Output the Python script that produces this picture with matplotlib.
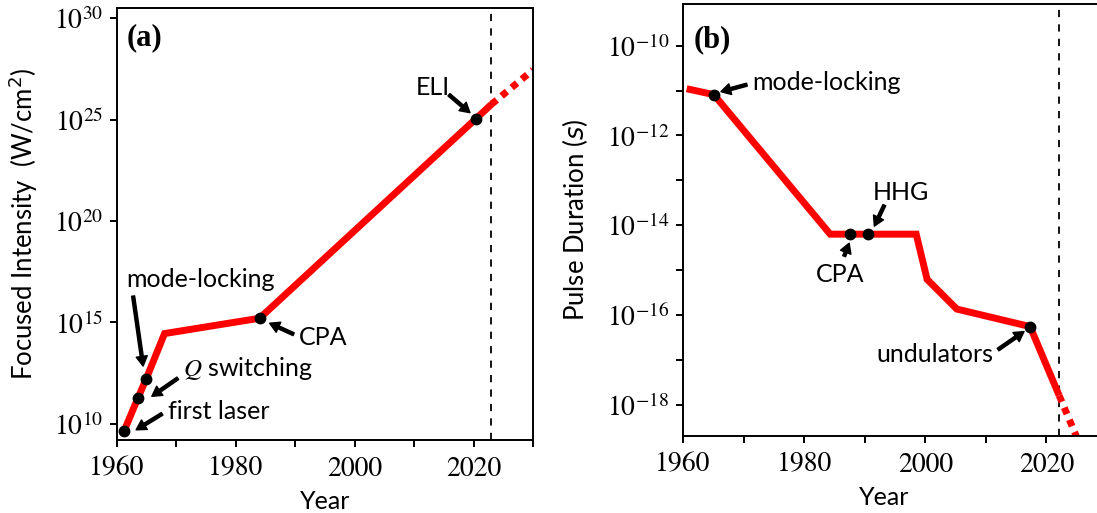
import numpy as np
import matplotlib.pyplot as plt
from matplotlib.transforms import offset_copy

plt.rcParams['font.family'] = ['Lato', 'DejaVu Sans']
plt.rcParams['mathtext.fontset'] = 'stix'

RED = '#ff0000'

# (a) peak focused intensity (W/cm^2) vs year
int_years = [1961.2, 1963.5, 1964.9, 1968.0, 1984.0, 2020.4, 2023.0]
int_values = [4.5e9, 1.8e11, 1.6e12, 2.8e14, 1.6e15, 1.1e25, 5.6e25]
int_future_years = [2023.0, 2030.0]
int_future_values = [5.6e25, 2.8e27]
int_marks = [0, 1, 2, 4, 5]
int_names = ['first laser', '$Q$ switching', 'mode-locking', 'CPA', 'ELI']
int_now = 2023.0

# (b) shortest pulse duration (s) vs year
dur_years = [1960.6, 1965.1, 1984.3, 1987.6, 1990.6, 1998.5, 2000.3, 2005.2, 2017.3, 2022.1]
dur_values = [1.1e-11, 8.1e-12, 6.3e-15, 6.3e-15, 6.3e-15, 6.3e-15, 6.2e-16, 1.35e-16, 5.5e-17, 1.6e-18]
dur_future_years = [2022.1, 2026.0]
dur_future_values = [1.6e-18, 9e-20]
dur_marks = [1, 3, 4, 8]
dur_names = ['mode-locking', 'CPA', 'HHG', 'undulators']
dur_now = 2022.1

# label layout in pixels relative to each marked point:
# (text dx, text dy, align, arrow tail dx, dy, arrow head dx, dy)
int_layout = [
    (44, 19, 'left', 38, 17, 12, 1),
    (45, 30, 'left', 40, 20, 14, 2),
    (-20, 100, 'left', -13, 83, -3, 13),
    (39, -19, 'left', 34, -16, 10, -5),
    (-60, 31, 'left', -27, 24, -6, 6),
]
dur_layout = [
    (38, 12, 'left', 33, 10, 7, 3),
    (-34, -40, 'left', -6, -22, -1, -9),
    (4, 42, 'left', 16, 29, 6, 8),
    (-37, -28, 'right', -32, -23, -6, -5),
]

W, H = 1097, 513
fig = plt.figure(figsize=(W / 100, H / 100), dpi=100)
ax_a = fig.add_axes([117 / W, (H - 440) / H, 416 / W, 432 / H])
ax_b = fig.add_axes([683 / W, (H - 436) / H, 424 / W, 432 / H])


def style_axes(ax, yticks, ylabels):
    ax.set_yscale('log')
    ax.set_xlim(1960, 2030)
    xt = np.arange(1960, 2031, 10)
    ax.set_xticks(xt, [str(t) if t % 20 == 0 else '' for t in xt],
                  fontfamily='STIXGeneral', fontsize=20)
    ax.set_yticks(yticks, ylabels, fontsize=20)
    ax.minorticks_off()
    ax.tick_params(direction='out', length=5, width=1.4, pad=5)
    ax.tick_params(axis='x', pad=7)
    for s in ax.spines.values():
        s.set_linewidth(1.4)


def mark(ax, xs, ys, idx, names, layout):
    for i, name, (tx, ty, ha, ax0, ay0, hx, hy) in zip(idx, names, layout):
        x, y = xs[i], ys[i]
        ax.plot(x, y, 'o', color='k', ms=7.5, zorder=4)
        head = offset_copy(ax.transData, fig=fig, x=hx, y=hy, units='dots')
        ax.annotate('', xy=(x, y), xycoords=head,
                    xytext=(ax0 - hx, ay0 - hy), textcoords='offset pixels',
                    arrowprops=dict(facecolor='k', edgecolor='k', width=2.2,
                                    headwidth=8, headlength=7, shrink=0))
        ax.annotate(name, xy=(x, y), xytext=(tx, ty), textcoords='offset pixels',
                    ha=ha, va='center', fontsize=18)


# panel (a)
ax_a.plot(int_years, int_values, color=RED, lw=5, solid_joinstyle='miter',
          solid_capstyle='butt', zorder=2)
ax_a.plot(int_future_years, int_future_values, color=RED, lw=5,
          ls=(0, (1, 0.9)), dash_capstyle='butt', zorder=2)
ax_a.axvline(int_now, color='k', lw=1.3, ls=(0, (4, 4)), zorder=1)
style_axes(ax_a, [1e10, 1e15, 1e20, 1e25, 1e30],
           ['$10^{10}$', '$10^{15}$', '$10^{20}$', '$10^{25}$', '$10^{30}$'])
ax_a.set_ylim(10 ** 9.2, 10 ** 30.5)
mark(ax_a, int_years, int_values, int_marks, int_names, int_layout)
ax_a.set_xlabel('Year', fontsize=18, labelpad=6)
ax_a.set_ylabel('Focused Intensity  (W/cm$^2$)', fontsize=18.5, labelpad=10,
                math_fontfamily='dejavusans')
ax_a.text(0.022, 0.965, '(a)', transform=ax_a.transAxes, ha='left', va='top',
          fontfamily='Liberation Serif', fontweight='bold', fontsize=22)

# panel (b)
ax_b.plot(dur_years, dur_values, color=RED, lw=5, solid_joinstyle='miter',
          solid_capstyle='butt', zorder=2)
ax_b.plot(dur_future_years, dur_future_values, color=RED, lw=5,
          ls=(0, (1, 0.9)), dash_capstyle='butt', zorder=2)
ax_b.axvline(dur_now, color='k', lw=1.3, ls=(0, (4, 4)), zorder=1)
exps = np.arange(-18, -9)
style_axes(ax_b, 10.0 ** exps,
           ['$10^{%d}$' % e if e % 2 == 0 else '' for e in exps])
ax_b.set_ylim(2e-19, 8.5e-10)
mark(ax_b, dur_years, dur_values, dur_marks, dur_names, dur_layout)
ax_b.set_xlabel('Year', fontsize=18)
ax_b.xaxis.set_label_coords(0.474, -0.115)
ax_b.set_ylabel('Pulse Duration ($s$)', fontsize=18.5, labelpad=12,
                math_fontfamily='dejavusans')
ax_b.text(0.024, 0.95, '(b)', transform=ax_b.transAxes, ha='left', va='top',
          fontfamily='Liberation Serif', fontweight='bold', fontsize=22)

fig.savefig('out.png', dpi=100)
